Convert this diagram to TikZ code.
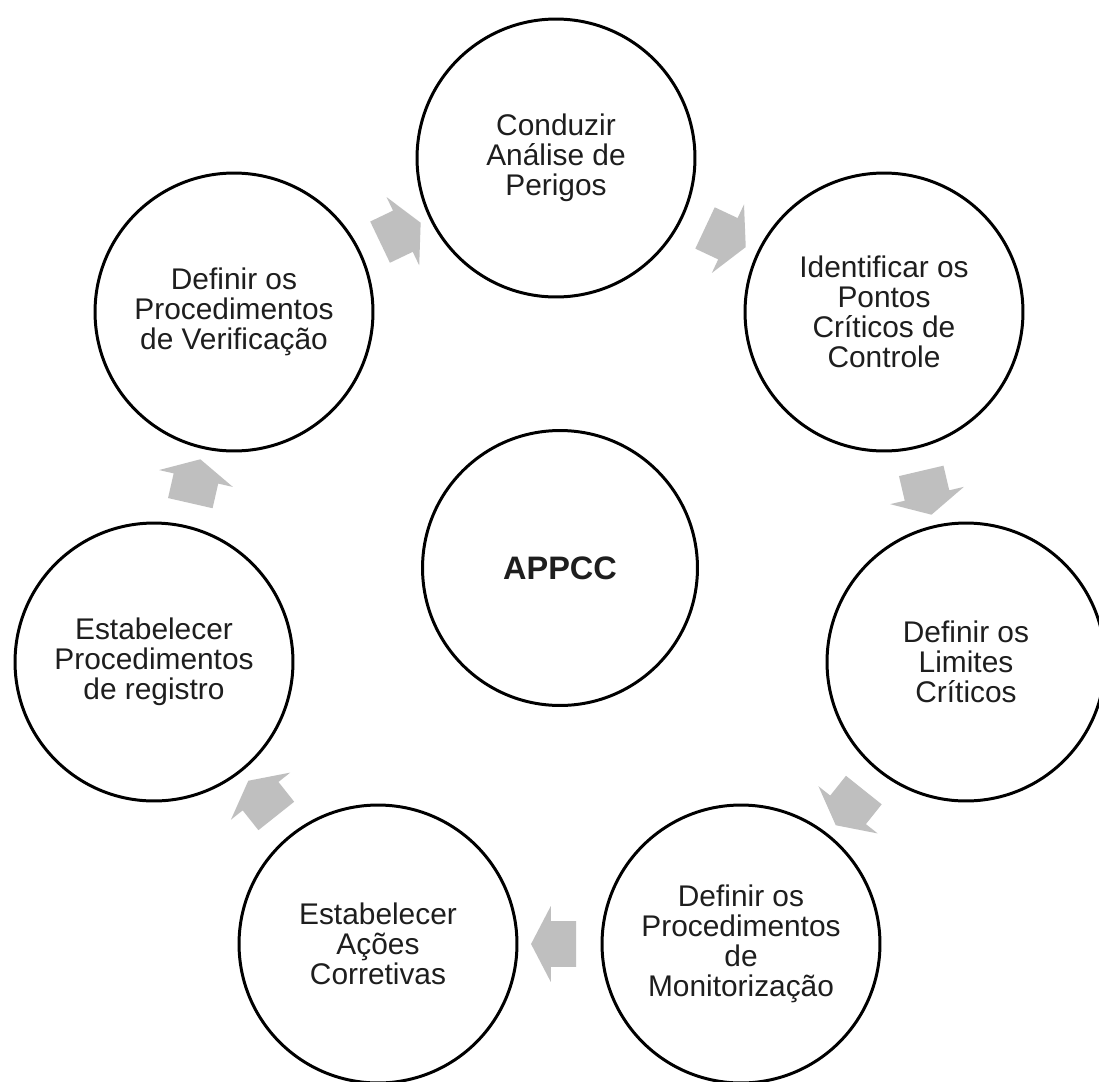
\documentclass[tikz,border=0pt]{standalone}
\usepackage{fontspec}
\setmainfont{Liberation Sans}
\usetikzlibrary{shapes.arrows}
\definecolor{arrowgray}{RGB}{191,191,191}
\definecolor{textgray}{RGB}{30,30,30}
\begin{document}
\begin{tikzpicture}[x=0.02cm,y=-0.02cm,
  stage/.style={circle,draw=black,line width=1.7pt,minimum size=5.56cm,inner sep=0pt,
    align=center,text=textgray,font=\fontsize{17}{17.1}\selectfont},
  hub/.style={stage,minimum size=5.5cm,font=\fontsize{18.5}{17.1}\selectfont\bfseries},
  cyclearrow/.style={single arrow,fill=arrowgray,draw=none,inner xsep=0pt,inner ysep=0.45cm,
    minimum height=0.9cm,single arrow head extend=0.3cm,
    single arrow tip angle=125,sloped,allow upside down}]
\fill[white] (0,0) rectangle (1099,1082);
\useasboundingbox (0,0) rectangle (1099,1082);
% centre
\node[hub] (appcc) at (560,568) {APPCC};
% the seven stages, clockwise from the top
\node[stage] (cond) at (556,158) {Conduzir\\Análise de\\Perigos};
\node[stage] (ident) at (884,312) {Identificar os\\Pontos\\Críticos de\\Controle};
\node[stage] (lim) at (966,662) {Definir os\\Limites\\Críticos};
\node[stage] (monit) at (741,944) {Definir os\\Procedimentos\\de\\Monitorização};
\node[stage] (acoes) at (378,944) {Estabelecer\\Ações\\Corretivas};
\node[stage] (reg) at (154,662) {Estabelecer\\Procedimentos\\de registro};
\node[stage] (verif) at (234,312) {Definir os\\Procedimentos\\de Verificação};
% block arrows between neighbours
\foreach \a/\b in {verif/cond,cond/ident,ident/lim,lim/monit,monit/acoes,acoes/reg,reg/verif}
  \path (\a) -- node[cyclearrow] {} (\b);
\end{tikzpicture}
\end{document}
